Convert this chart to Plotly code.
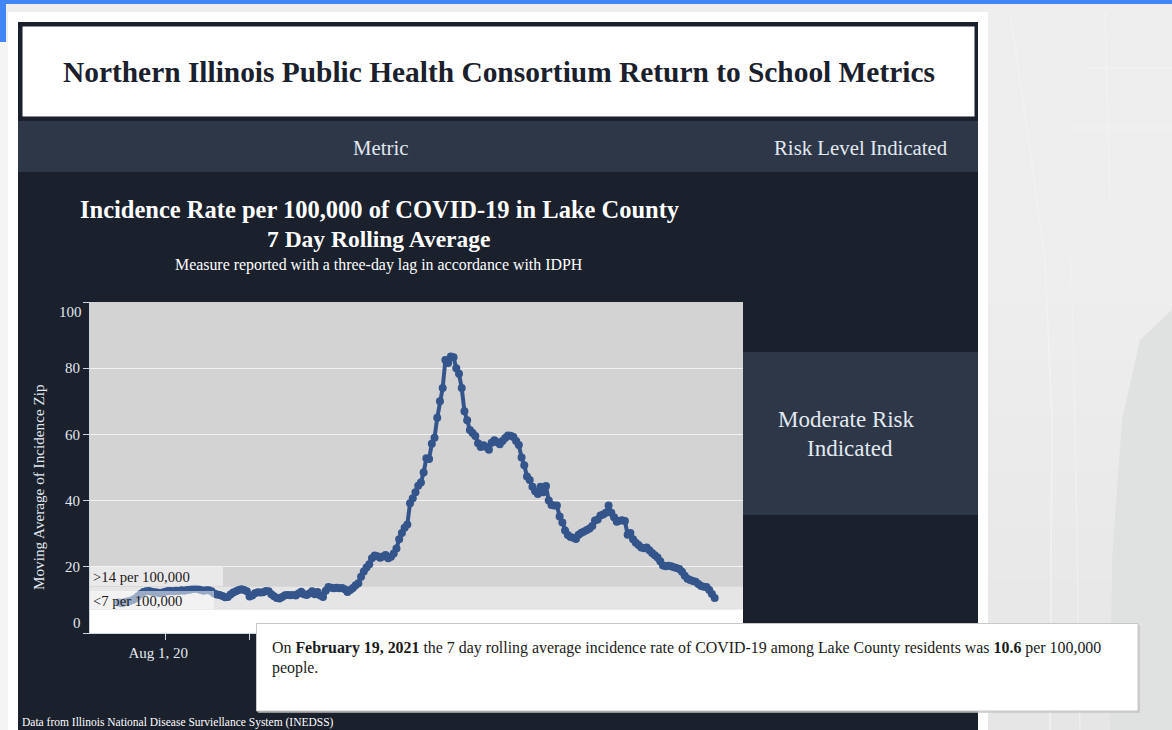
import pandas as pd
import plotly.graph_objects as go

W, H = 1172, 730
FONT = "Liberation Serif"

start_date = "2020-07-15"
incidence = [
    9.2, 9.0, 9.3, 9.5, 9.7, 10.0, 10.4, 11.1, 11.8, 12.4,
    12.6, 12.7, 12.5, 12.3, 12.2, 12.0, 12.2, 12.5, 12.7, 12.7,
    12.6, 12.8, 12.7, 12.9, 12.8, 13.0, 13.1, 13.3, 13.4, 13.3,
    13.0, 12.8, 12.9, 12.9, 12.6, 11.9, 11.6, 11.5, 11.2, 10.8,
    10.9, 11.6, 12.2, 12.6, 13.0, 13.2, 13.0, 12.6, 11.0, 11.3,
    12.0, 12.3, 12.2, 12.3, 12.7, 12.6, 11.7, 11.1, 10.6, 10.4,
    10.9, 11.4, 11.5, 11.4, 11.5, 11.3, 11.9, 12.5, 11.7, 11.5,
    11.9, 12.6, 11.7, 12.4, 11.3, 10.9, 12.8, 13.9, 13.7, 13.5,
    13.7, 13.5, 13.6, 13.2, 12.4, 13.0, 13.6, 14.4, 15.0, 17.0,
    18.6, 19.8, 20.8, 22.6, 23.4, 23.2, 22.7, 23.1, 23.6, 22.6,
    23.0, 24.0, 25.5, 28.3, 30.2, 31.8, 32.8, 39.2, 40.7, 42.5,
    44.5, 45.5, 48.5, 52.8, 52.6, 57.2, 59.0, 65.0, 70.0, 74.0,
    82.5, 81.6, 83.5, 83.3, 80.0, 78.3, 74.0, 67.0, 64.3, 61.3,
    60.4, 59.5, 57.3, 56.2, 56.7, 56.2, 55.4, 57.5, 58.2, 57.6,
    57.0, 58.0, 58.9, 59.7, 59.6, 59.2, 58.0, 56.8, 53.0, 50.7,
    47.3, 46.2, 44.2, 42.8, 42.0, 44.2, 42.5, 44.4, 40.0, 38.7,
    38.5, 38.5, 35.2, 33.4, 31.0, 29.6, 29.0, 28.8, 28.4, 29.7,
    30.3, 30.7, 31.1, 31.6, 32.3, 34.0, 34.3, 35.5, 35.8, 36.3,
    38.5, 36.3, 35.0, 33.6, 33.9, 34.1, 33.8, 29.7, 30.2, 28.3,
    27.3, 26.6, 25.8, 25.6, 25.8, 25.0, 24.2, 23.5, 22.8, 21.7,
    20.4, 20.2, 20.3, 20.2, 19.9, 19.6, 19.3, 18.5, 17.3, 16.4,
    16.0, 15.7, 15.5, 14.8, 14.2, 14.0, 13.9, 13.0, 11.8, 10.6,
]
dates = pd.date_range(start_date, periods=len(incidence), freq="D")

y_ticks = [0, 20, 40, 60, 80, 100]
y_tick_labels = ["", "20", "40", "60", "80", ""]
x_ticks = ["2020-08-01", "2020-09-01", "2020-10-01", "2020-11-01", "2020-12-01", "2021-01-01", "2021-02-01", "2021-03-01"]
x_tick_labels = ["Aug 1, 20", "", "", "", "", "", "", ""]
low_threshold = 7
high_threshold = 14
top_of_scale = 100


def fx(px):
    return px / W


def fy(px):
    return 1 - px / H


def rect(x0, y0, x1, y1, fill, layer="below", line=None, lw=0, opacity=1):
    return dict(type="rect", xref="paper", yref="paper", x0=fx(x0), x1=fx(x1), y0=fy(y1), y1=fy(y0),
                fillcolor=fill, layer=layer, opacity=opacity,
                line=dict(color=line or fill, width=lw))


def poly(path, fill, line=None, lw=0):
    pts = " L ".join(f"{fx(a):.5f},{fy(b):.5f}" for a, b in path)
    return dict(type="path", xref="paper", yref="paper", path=f"M {pts} Z", fillcolor=fill, layer="below",
                line=dict(color=line or fill, width=lw))


def road(path, color="#f2f2f2", lw=1.5):
    pts = " L ".join(f"{fx(a):.5f},{fy(b):.5f}" for a, b in path)
    return dict(type="path", xref="paper", yref="paper", path=f"M {pts}", layer="below",
                line=dict(color=color, width=lw))


def band(y0, y1, fill):
    return dict(type="rect", xref="x domain", yref="y", x0=0, x1=1, y0=y0, y1=y1,
                fillcolor=fill, layer="below", line=dict(width=0))


def txt(x, y, s, size, color="#ffffff", anchor="center"):
    return dict(x=fx(x), y=fy(y), xref="paper", yref="paper", text=s, showarrow=False, xanchor=anchor,
                yanchor="middle", font=dict(family=FONT, size=size, color=color))


NAVY = "#1a202c"
SLATE = "#2d3748"
AXIS = "#cbd5e0"
LABEL = "#e2e8f0"

# soft vertical shading of the map behind the dashboard
map_shades = ["#eeeeee", "#ededed", "#ececec", "#ebebeb", "#eaeaea", "#e9e9e9", "#e8e8e8", "#e7e7e7", "#e6e6e6"]

shapes = [rect(0, 0, W, H, "#eeeeee")]
shapes += [rect(988, 250 + 55 * i, W, H, shade) for i, shade in enumerate(map_shades)]
shapes += [
    poly([(1172, 310), (1140, 340), (1122, 420), (1112, 560), (1110, 730), (1172, 730)], "#e0e2e1"),
    road([(1010, 12), (1030, 150), (1045, 260), (1052, 420), (1050, 730)]),
    road([(1040, 12), (1068, 130), (1075, 420), (1080, 730)], "#f1f1f1", 1),
    road([(1085, 68), (1172, 68)]),
    road([(1070, 128), (1172, 128)]),
    road([(1105, 12), (1110, 200)]),
    rect(0, 0, W, 4, "#4285f4"),
    rect(0, 4, 6, 42, "#4285f4"),
    rect(0, 42, 8, H, "#f4f4f4"),
    rect(8, 12, 988, H, "#ffffff"),
    # dashboard panels
    rect(18, 22, 978, H, NAVY),
    rect(18, 121, 978, 172, SLATE),
    rect(743, 352, 978, 515, SLATE),
    rect(21, 25, 976, 118, "#ffffff", line=NAVY, lw=3),
    # threshold bands, painted from the top of the scale down so no seam shows
    band(0, top_of_scale, "#d3d3d3"),
    band(0, high_threshold, "#e5e5e5"),
    band(0, low_threshold, "#ffffff"),
    # threshold labels and note box
    rect(90, 567, 223, 586, "#ffffff", layer="above", opacity=0.5),
    rect(90, 591, 214, 609, "#ffffff", layer="above", opacity=0.5),
    rect(258, 625, 1140, 713, "#c4c4c4", layer="above", opacity=0.7),
    rect(256.5, 623.5, 1138, 711, "#ffffff", layer="above", line="#c8c8c8", lw=1),
]

annotations = [
    txt(498.5, 72, "<b>Northern Illinois Public Health Consortium Return to School Metrics</b>", 29.4, NAVY),
    txt(380.5, 147.5, "Metric", 20.8, LABEL),
    txt(860.5, 147.5, "Risk Level Indicated", 20.8, LABEL),
    txt(380, 209.5, "<b>Incidence Rate per 100,000 of COVID-19 in Lake County</b>", 24.5),
    txt(378, 238.5, "<b>7 Day Rolling Average</b>", 23.5),
    txt(379, 265, "Measure reported with a three-day lag in accordance with IDPH", 15.9),
    txt(846, 419.5, "Moderate Risk", 23, LABEL),
    txt(850, 448.5, "Indicated", 23, LABEL),
    txt(70, 312, "100", 15, LABEL),
    txt(77, 623, "0", 15, LABEL),
    txt(38, 487, "Moving Average of Incidence Zip", 15.2, LABEL) | dict(textangle=-90),
    txt(91, 577, "&gt;14 per 100,000", 14.7, "#1a1a1a", "left"),
    txt(91, 601, "&lt;7 per 100,000", 14.7, "#1a1a1a", "left"),
    txt(270, 648, "On <b>February 19, 2021</b> the 7 day rolling average incidence rate of COVID-19 among Lake County residents was <b>10.6</b> per 100,000", 15.9, "#1a1a1a", "left"),
    txt(270, 668, "people.", 15.9, "#1a1a1a", "left"),
    txt(20, 722, "Data from Illinois National Disease Surviellance System (INEDSS)", 11.5, "#ffffff", "left"),
]

fig = go.Figure(go.Scatter(
    x=dates, y=incidence, mode="lines+markers",
    line=dict(color="#34558b", width=4),
    marker=dict(color="#34558b", size=8),
    hoverinfo="skip", showlegend=False,
))

fig.update_layout(
    width=W, height=H, margin=dict(l=0, r=0, t=0, b=0), autosize=False,
    paper_bgcolor="#eeeeee", plot_bgcolor="#d3d3d3",
    font=dict(family=FONT, size=15, color=LABEL),
    shapes=shapes, annotations=annotations,
    xaxis=dict(
        domain=[fx(90), fx(743)], range=["2020-07-04 08:00", "2021-03-01 10:00"],
        tickmode="array", tickvals=x_ticks, ticktext=x_tick_labels, ticklabelshift=-7,
        ticks="outside", ticklen=6, tickcolor=AXIS, tickwidth=1,
        showgrid=False, showline=True, linecolor=AXIS, linewidth=1, zeroline=False,
        tickfont=dict(family=FONT, size=15, color=LABEL),
    ),
    yaxis=dict(
        domain=[fy(633), fy(302)], range=[0, top_of_scale],
        tickmode="array", tickvals=y_ticks, ticktext=y_tick_labels,
        ticks="outside", ticklen=6, tickcolor=AXIS, tickwidth=1,
        showgrid=True, gridcolor="#f2f2f2", gridwidth=1,
        showline=True, linecolor=AXIS, linewidth=1, zeroline=False,
        tickfont=dict(family=FONT, size=15, color=LABEL),
    ),
)

fig.write_html("out.html", config={"displayModeBar": False},
               post_script="document.body.style.margin='0';document.body.style.overflow='hidden';")
